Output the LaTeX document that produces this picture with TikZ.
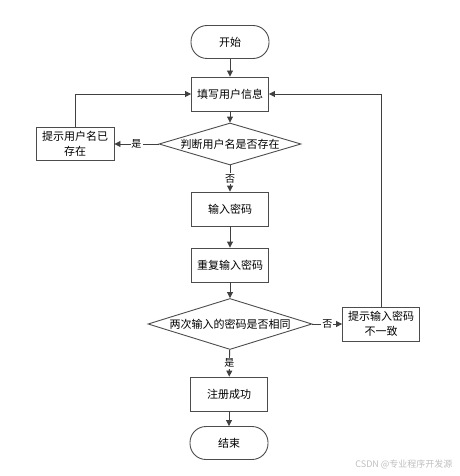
\documentclass[tikz,border=0pt]{standalone}
\usepackage{fontspec}
\newfontfamily\cjk{Noto Sans CJK SC}
\usetikzlibrary{shapes.geometric,arrows.meta}
\begin{document}
\begin{tikzpicture}[x=1pt,y=-1pt,
  font=\cjk\fontsize{11}{15}\selectfont,
  box/.style={draw=black!70,line width=0.9pt,minimum width=77pt,minimum height=34pt,align=center},
  term/.style={box,rounded corners=16pt,minimum width=78pt,minimum height=33pt},
  decide/.style={draw=black!70,line width=0.9pt,diamond,inner sep=0pt,aspect=3.4},
  arr/.style={draw=black!75,line width=0.9pt,-{Triangle[length=6pt,width=6pt]}},
  lbl/.style={fill=white,inner sep=1pt,font=\cjk\fontsize{10}{12}\selectfont}]
\useasboundingbox (0,0) rectangle (459,476);
\node[term] (start) at (230,42) {开始};
\node[box] (fill) at (230,94) {填写用户信息};
\node[decide,minimum width=142pt,minimum height=42pt] (check) at (230,144) {判断用户名是否存在};
\node[box,minimum width=78pt,minimum height=33pt] (exists) at (75,144) {提示用户名已\\存在};
\node[box] (pwd) at (230,209) {输入密码};
\node[box] (repeat) at (230,265) {重复输入密码};
\node[decide,minimum width=164pt,minimum height=51pt] (same) at (230,324) {两次输入的密码是否相同};
\node[box] (mismatch) at (381,324) {提示输入密码\\不一致};
\node[box] (done) at (229,394) {注册成功};
\node[term] (end) at (229,443) {结束};
\node[text=black!25,font=\cjk\fontsize{9}{11}\selectfont,anchor=east] (mark) at (456,464) {CSDN @专业程序开发源};
\draw[arr] (start) -- (fill);
\draw[arr] (fill) -- (check);
\draw[arr] (check) -- node[lbl] {是} (exists);
\draw[arr] (exists.north) |- (fill.west);
\draw[arr] (check) -- node[lbl] {否} (pwd);
\draw[arr] (pwd) -- (repeat);
\draw[arr] (repeat) -- (same);
\draw[arr] (same) -- node[lbl] {否} (mismatch);
\draw[arr] (mismatch.north) |- (fill.east);
\draw[arr] (same) -- node[lbl] {是} (done);
\draw[arr] (done) -- (end);
\end{tikzpicture}
\end{document}
